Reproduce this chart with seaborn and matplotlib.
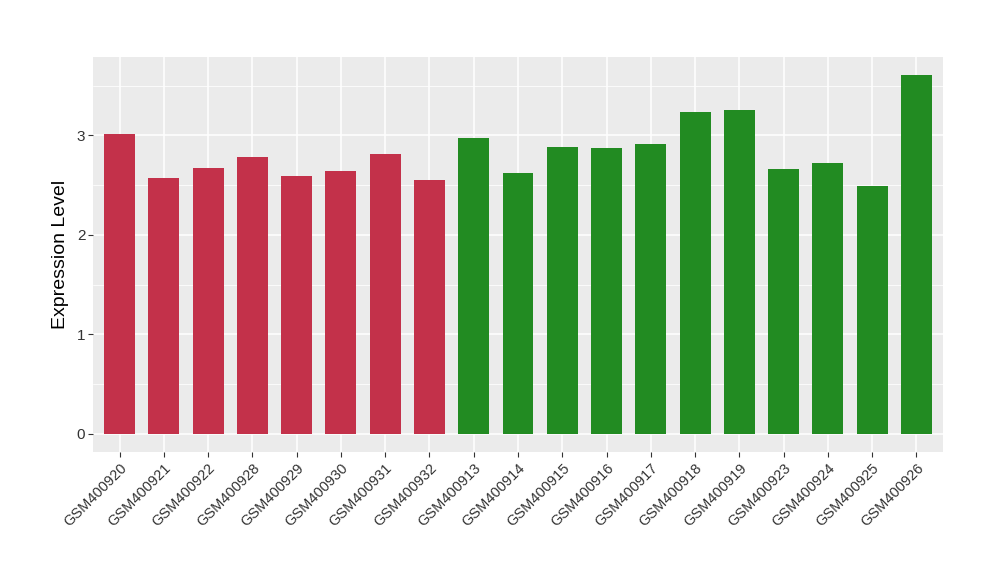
import numpy as np
import pandas as pd
import seaborn as sns
import matplotlib.pyplot as plt
from matplotlib.ticker import MultipleLocator

samples = ['GSM400920', 'GSM400921', 'GSM400922', 'GSM400928', 'GSM400929',
           'GSM400930', 'GSM400931', 'GSM400932', 'GSM400913', 'GSM400914',
           'GSM400915', 'GSM400916', 'GSM400917', 'GSM400918', 'GSM400919',
           'GSM400923', 'GSM400924', 'GSM400925', 'GSM400926']
expression = [3.017, 2.574, 2.674, 2.785, 2.594, 2.644, 2.815, 2.554, 2.977, 2.624,
              2.886, 2.876, 2.916, 3.238, 3.258, 2.664, 2.725, 2.493, 3.611]
groups = ['control'] * 8 + ['treated'] * 11
group_colors = {'control': '#C3314A', 'treated': '#228B22'}

df = pd.DataFrame({'sample': samples, 'expression': expression, 'group': groups})

sns.set_style('darkgrid', {'axes.facecolor': '#EBEBEB', 'grid.color': 'white'})
plt.rcParams['font.family'] = ['Liberation Sans', 'DejaVu Sans']

fig = plt.figure(figsize=(10, 5.8), dpi=100)
ax = fig.add_axes([0.093, 0.2212, 0.85, 0.681])

sns.barplot(data=df, x='sample', y='expression', hue='group', palette=group_colors,
            order=samples, width=0.7, dodge=False, legend=False, saturation=1,
            linewidth=0, ax=ax)

# ggplot style expansion
top = max(expression)
ax.set_xlim(-0.6, len(samples) - 0.4)
ax.set_ylim(-0.05 * top, top * 1.05)
ax.yaxis.set_major_locator(MultipleLocator(1))
ax.yaxis.set_minor_locator(MultipleLocator(0.5))
ax.grid(which='major', color='white', linewidth=1.1)
ax.grid(which='minor', axis='y', color='white', linewidth=0.55)
ax.set_axisbelow(True)
for s in ax.spines.values():
    s.set_visible(False)

ax.tick_params(axis='both', which='major', bottom=True, left=True, length=3.5,
               width=0.8, color='#333333', labelcolor='#333333', labelsize=11, pad=2)
ax.tick_params(axis='x', labelsize=10.5, pad=3)
ax.tick_params(axis='y', which='minor', length=0)
plt.setp(ax.get_xticklabels(), rotation=45, ha='right', rotation_mode='anchor')

ax.set_xlabel('')
ax.set_ylabel('Expression Level', fontsize=14, color='black', labelpad=6)

fig.savefig('out.png', dpi=100)
